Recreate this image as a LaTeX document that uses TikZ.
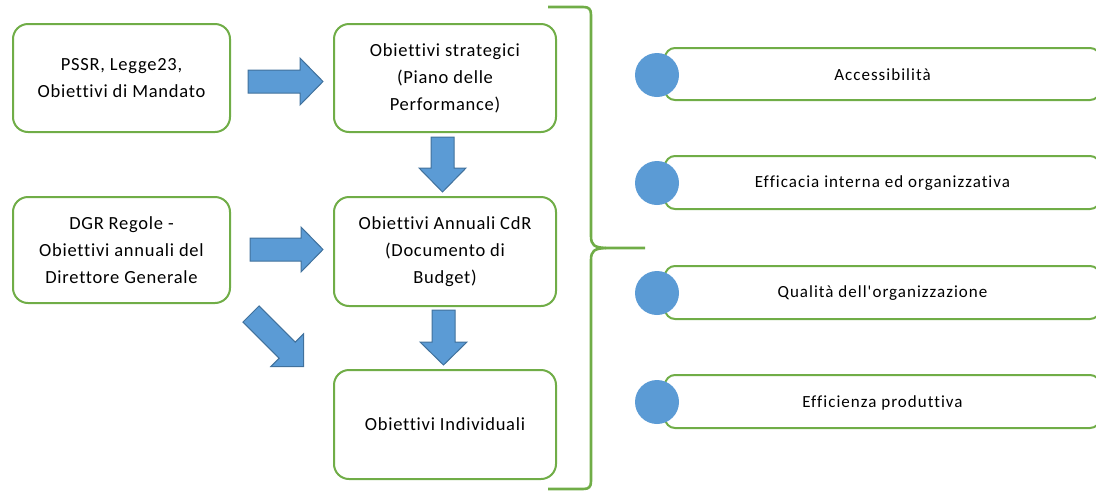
\documentclass[tikz,border=0pt]{standalone}
\usepackage{fontspec}
\setmainfont{Carlito}[Ligatures=NoCommon]
\newfontfamily\leftfont{Carlito}[LetterSpace=4,Ligatures=NoCommon]
\newfontfamily\rightfont{Carlito}[LetterSpace=6,Ligatures=NoCommon]
\definecolor{grn}{RGB}{112,173,71}
\definecolor{blu}{RGB}{91,155,213}
\definecolor{bludk}{RGB}{65,113,156}
\begin{document}
\begin{tikzpicture}[x=1pt,y=-1pt,
  lbox/.style={draw=grn,line width=2pt,rounded corners=15pt,fill=white,align=center,inner sep=0pt,
    font=\leftfont\fontsize{18.5}{27}\selectfont},
  rbox/.style={draw=grn,line width=2pt,rounded corners=10pt,fill=white},
  rlabel/.style={font=\rightfont\fontsize{17}{20}\selectfont},
  dot/.style={circle,fill=blu,draw=none,minimum size=44pt,inner sep=0pt},
  blockarrow/.style={fill=blu,draw=bludk,line width=1pt,line join=miter},
  brace/.style={draw=grn,line width=2.6pt}]
\useasboundingbox (0,0) rectangle (1096,491);
\clip (0,0) rectangle (1096,491);
% left boxes
\node[lbox,minimum width=217pt,minimum height=108pt] (A) at (121.5,78) {PSSR, Legge23,\\Obiettivi di Mandato};
\node[lbox,minimum width=222pt,minimum height=108pt] (B) at (445,78) {Obiettivi strategici\\(Piano delle\\Performance)};
\node[lbox,minimum width=217pt,minimum height=106pt] (C) at (121.5,250) {DGR Regole -\\Obiettivi annuali del\\Direttore Generale};
\node[lbox,minimum width=222pt,minimum height=109pt] (D) at (445,251.5) {Obiettivi Annuali CdR\\(Documento di\\Budget)};
\node[lbox,minimum width=222pt,minimum height=109pt] (E) at (445,424.5) {Obiettivi Individuali};
% block arrows
\draw[blockarrow] (248,70) -- (300,70) -- (300,58) -- (323,81.5) -- (300,105) -- (300,93) -- (248,93) -- cycle;
\draw[blockarrow] (250,238) -- (301,238) -- (301,227) -- (323,249.5) -- (301,272) -- (301,261) -- (250,261) -- cycle;
\draw[blockarrow] (431,137) -- (454,137) -- (454,168) -- (466,168) -- (442.5,192) -- (419,168) -- (431,168) -- cycle;
\draw[blockarrow] (432,310) -- (455,310) -- (455,342) -- (467,342) -- (443.5,365) -- (420,342) -- (432,342) -- cycle;
\draw[blockarrow] (259.1,305.9) -- (295.3,342.1) -- (303.5,333.9) -- (303.5,366.5) -- (270.9,366.5) -- (279.1,358.3) -- (242.9,322.1) -- cycle;
% brace
\coordinate (bt) at (548,7);
\coordinate (bb) at (548,489);
\coordinate (tip) at (645,248);
\draw[brace] (bt) -- (583,7) .. controls (589,7) and (591,9) .. (591,15) -- (591,236)
  .. controls (591,245) and (594,247.5) .. (606,248) -- (tip);
\draw[brace] (bb) -- (583,489) .. controls (589,489) and (591,487) .. (591,481) -- (591,260)
  .. controls (591,251) and (594,248.5) .. (606,248);
% right items
\draw[rbox] (665,48) rectangle (1100,100);
\draw[rbox] (665,156) rectangle (1100,209);
\draw[rbox] (665,266) rectangle (1100,319);
\draw[rbox] (665,375) rectangle (1100,428);
\node[rlabel] (t1) at (882.5,75) {Accessibilità};
\node[rlabel] (t2) at (882.5,183.5) {Efficacia interna ed organizzativa};
\node[rlabel] (t3) at (882.5,293.5) {Qualità dell'organizzazione};
\node[rlabel] (t4) at (882.5,402.5) {Efficienza produttiva};
\node[dot] (c1) at (657,75) {};
\node[dot] (c2) at (657,183) {};
\node[dot] (c3) at (657,293) {};
\node[dot] (c4) at (657,402) {};
\end{tikzpicture}
\end{document}
